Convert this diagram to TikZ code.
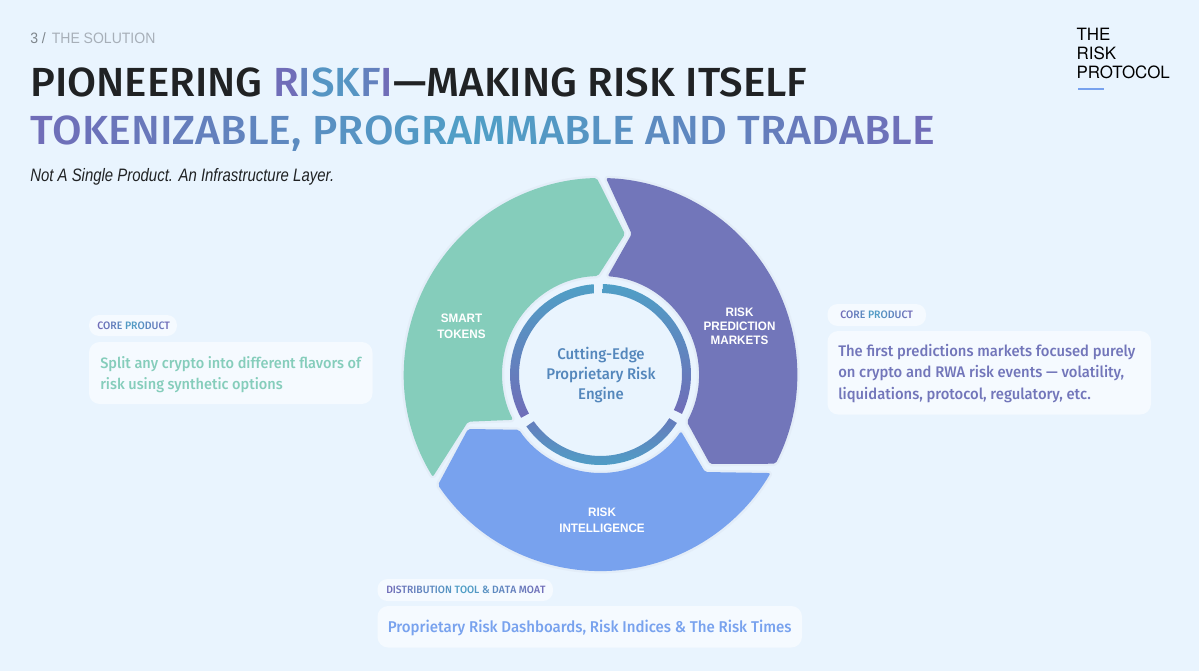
\documentclass[tikz,border=0pt]{standalone}
\usepackage{fontspec}
\setmainfont{Liberation Sans}
\newfontfamily\headfont[FakeStretch=1.034]{Fira Sans Medium}
\newfontfamily\headwide[FakeStretch=1.054]{Fira Sans Medium}
\newfontfamily\bodyfont[FakeStretch=0.965]{Fira Sans Medium}
\newfontfamily\tagfont[FakeStretch=0.97]{Fira Sans Medium}
\newfontfamily\labelfont[FakeStretch=0.95]{Liberation Sans Bold}
\newfontfamily\plainfont[FakeStretch=0.93]{Liberation Sans}
\newfontfamily\subfont[FakeStretch=0.83]{Liberation Sans Italic}
\newfontfamily\logofont{TeX Gyre Heros}
\definecolor{pagebg}{HTML}{E9F4FE}
\definecolor{cardbg}{HTML}{F5FAFF}
\definecolor{haloblue}{HTML}{E3EDF8}
\definecolor{tealseg}{HTML}{85CDBB}
\definecolor{purpleseg}{HTML}{7276BA}
\definecolor{blueseg}{HTML}{78A2EE}
\definecolor{gradblue}{HTML}{4F9FC6}
\definecolor{gradpurple}{HTML}{706DB8}
\definecolor{inktext}{HTML}{202224}
\definecolor{greytext}{HTML}{A7AFB8}
\definecolor{numtext}{HTML}{7F868C}
\definecolor{hubtext}{HTML}{5487BC}
\makeatletter
\newcount\gradlen
\newcount\gradpos
% purple at both ends, blue in the middle
\newcommand{\gradtext}[1]{%
	\gradlen=0 \@tfor\gradtok:=#1\do{\advance\gradlen by 1}%
	\gradpos=0 \@tfor\gradtok:=#1\do{%
		\pgfmathparse{abs(2*\the\gradpos/(\the\gradlen-1)-1)*100}%
		\edef\gradpct{\pgfmathresult}%
		\textcolor{gradpurple!\gradpct!gradblue}{\gradtok}%
		\global\advance\gradpos by 1}}
\makeatother
\tikzset{
	segment/.style={preaction={draw=haloblue, line width=3.5pt, line join=round}, rounded corners=1.5},
	seglabel/.style={text=white, align=center, inner sep=0, font=\labelfont\fontsize{9.2}{12}\selectfont},
	pill/.style={fill=cardbg, rounded corners=7.5},
	card/.style={fill=cardbg, rounded corners=8},
	pilltext/.style={anchor=west, inner sep=0, font=\tagfont\fontsize{8.1}{9}\selectfont},
	cardtext/.style={anchor=west, inner sep=0, align=left},
}
\begin{document}
\begin{tikzpicture}[x=0.75pt,y=0.75pt]
		\useasboundingbox (0,0) rectangle (1199,-671);
		\fill[pagebg] (0,0) rectangle (1199,-671);

		\node[anchor=base west, inner sep=0, font=\plainfont\fontsize{11.3}{13}\selectfont] (pagenum) at (30,-43) {\textcolor{numtext}{3 /}\hspace{4.5pt}\textcolor{greytext}{THE SOLUTION}};
		\node[anchor=base west, inner sep=0, font=\headfont\fontsize{30.5}{36}\selectfont] (titleone) at (30,-96) {\textcolor{inktext}{PIONEERING }\gradtext{RISKFI}\textcolor{inktext}{—MAKING RISK ITSELF}};
		\node[anchor=base west, inner sep=0, font=\headwide\fontsize{30.5}{36}\selectfont] (titletwo) at (30,-144) {\gradtext{TOKENIZABLE,~PROGRAMMABLE~AND~TRADABLE}};
		\node[anchor=base west, inner sep=0, text=inktext, font=\subfont\fontsize{13.5}{16}\selectfont] (subtitle) at (30,-181.5) {Not A Single Product. An Infrastructure Layer.};

		\node[anchor=base west, inner sep=0, text=black, align=left, font=\logofont\fontsize{12.7}{14.1}\selectfont] (logo) at (1076.3,-78.3) {THE\\RISK\\PROTOCOL};
		\coordinate (rulea) at (1078,-89);
		\coordinate (ruleb) at (1104,-89);
		\draw[blueseg, line width=1pt] (rulea) -- (ruleb);

		\begin{scope}[shift={(600.5,-374.5)}]
			\fill[tealseg, segment] (211.4:196.5) arc[start angle=211.4, end angle=91.1, radius=196.5] -- (24.5,140.5) -- (91.5:98.5) arc[start angle=91.5, end angle=207.4, radius=98.5] -- (-132.5,-47.2) -- cycle;
			\fill[purpleseg, segment] (-27:196.5) arc[start angle=-27, end angle=88.4, radius=196.5] -- (31.2,140.5) -- (85.8:98.5) arc[start angle=85.8, end angle=-28.7, radius=98.5] -- (109.5,-89.5) -- cycle;
			\fill[blueseg, segment] (214.2:196.5) arc[start angle=214.2, end angle=329.9, radius=196.5] -- (104.5,-97.5) -- (-35.2:98.5) arc[start angle=-35.2, end angle=-145.9, radius=98.5] -- (-132.5,-54.5) -- cycle;

			\shade[top color=gradblue, bottom color=gradpurple] (88.5:90.5) arc[start angle=88.5, end angle=-25.8, radius=90.5] -- (-25.8:81.5) arc[start angle=-25.8, end angle=88.5, radius=81.5] -- cycle;
			\shade[top color=gradblue, bottom color=gradpurple] (94.3:90.5) arc[start angle=94.3, end angle=208.6, radius=90.5] -- (208.6:81.5) arc[start angle=208.6, end angle=94.3, radius=81.5] -- cycle;
			\shade[top color=gradpurple!70!gradblue, bottom color=gradblue] (215:90.5) arc[start angle=215, end angle=327.6, radius=90.5] -- (327.6:81.5) arc[start angle=327.6, end angle=215, radius=81.5] -- cycle;
		\end{scope}

		\node[seglabel] (smarttokens) at (461.5,-326.5) {SMART\\TOKENS};
		\node[seglabel, font=\labelfont\fontsize{9.2}{10.6}\selectfont] (riskmarkets) at (739.5,-326) {RISK\\PREDICTION\\MARKETS};
		\node[seglabel] (riskintel) at (602,-520) {RISK\\INTELLIGENCE};
		\node[align=center, inner sep=0, text=hubtext, font=\bodyfont\fontsize{11.6}{15}\selectfont] (hub) at (601,-375.5) {Cutting-Edge\\Proprietary Risk\\Engine};

		\fill[pill] (89,-315) rectangle (177,-336);
		\fill[card] (89,-342) rectangle (372.5,-404);
		\node[pilltext] (tokenstag) at (97,-325.5) {\gradtext{CORE~PRODUCT}};
		\node[cardtext, text=tealseg, font=\bodyfont\fontsize{11.3}{15.8}\selectfont] (tokensnote) at (100,-374.3) {Split any crypto into different flavors of\\risk using synthetic options};

		\fill[pill] (827.5,-304) rectangle (926,-326);
		\fill[card] (827.5,-331) rectangle (1151,-414.5);
		\node[pilltext] (marketstag) at (840,-315) {\gradtext{CORE~PRODUCT}};
		\node[cardtext, text=purpleseg, font=\bodyfont\fontsize{11.5}{15.9}\selectfont] (marketsnote) at (838,-373.5) {The first predictions markets focused purely\\on crypto and RWA risk events — volatility,\\liquidations, protocol, regulatory, etc.};

		\fill[pill] (377.5,-579) rectangle (553,-601);
		\fill[card] (377.5,-606) rectangle (802,-647.5);
		\node[pilltext, font=\tagfont\fontsize{7.95}{9}\selectfont] (inteltag) at (386,-590) {\gradtext{DISTRIBUTION~TOOL~\&~DATA~MOAT}};
		\node[cardtext, text=blueseg, font=\bodyfont\fontsize{11.7}{15.8}\selectfont] (intelnote) at (387.5,-628) {Proprietary Risk Dashboards, Risk Indices \& The Risk Times};
\end{tikzpicture}
\end{document}
